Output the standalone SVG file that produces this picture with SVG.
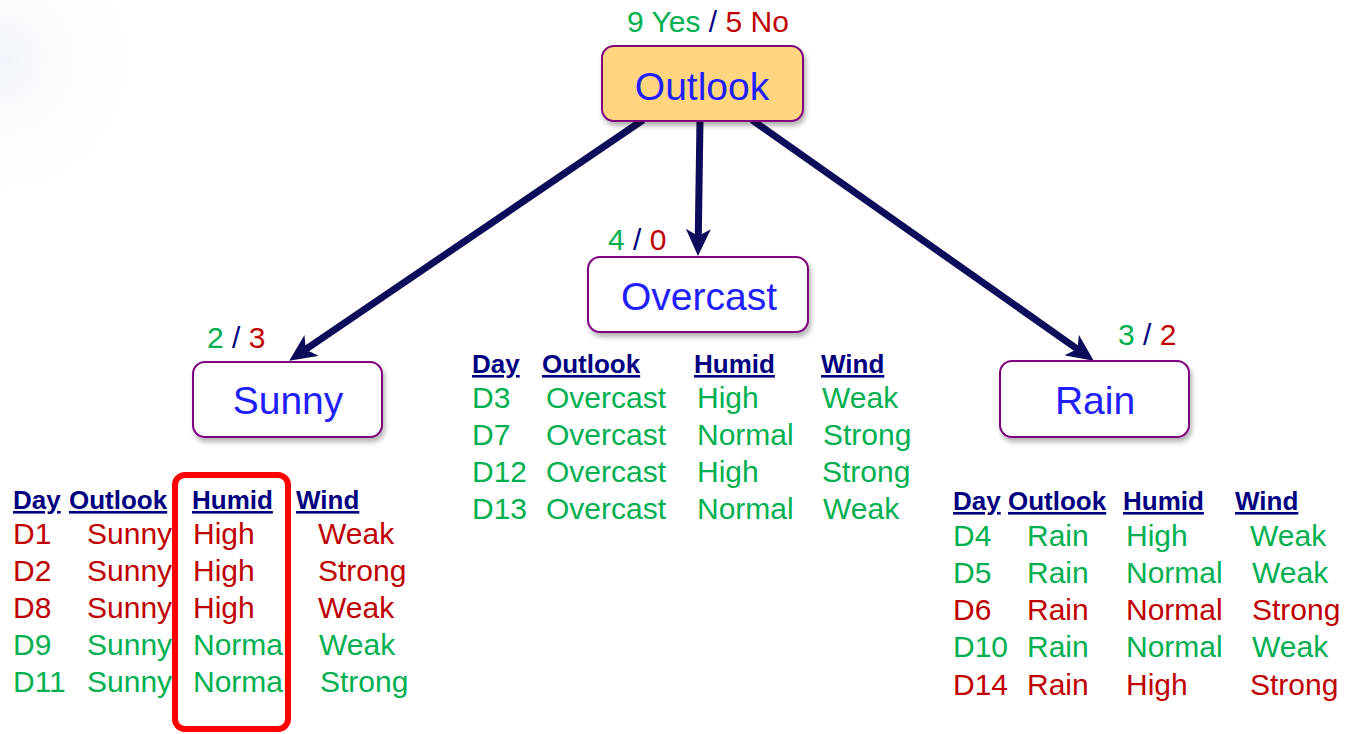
<svg xmlns="http://www.w3.org/2000/svg" width="1347" height="734" viewBox="0 0 1347 734">
  <defs>
    <radialGradient id="glow" cx="0" cy="60" r="150" gradientUnits="userSpaceOnUse">
      <stop offset="0" stop-color="#eaf0f8" stop-opacity="0.7"/>
      <stop offset="1" stop-color="#ffffff" stop-opacity="0"/>
    </radialGradient>
    <filter id="shadow" x="-10%" y="-10%" width="125%" height="140%">
      <feDropShadow dx="2" dy="4" stdDeviation="2.5" flood-color="#000" flood-opacity="0.3"/>
    </filter>
    <marker id="head" viewBox="0 0 27 25" markerWidth="27" markerHeight="25" refX="12" refY="12.5" orient="auto" markerUnits="userSpaceOnUse">
      <path d="M0,0 L27,12.5 L0,25 L7,12.5 Z" fill="#0c0c5a"/>
    </marker>
    <style>
      text { font-family: "Liberation Sans", Arial, sans-serif; }
      .node { stroke: #7f007f; stroke-width: 2; filter: url(#shadow); }
      .label { font-size: 39px; fill: #2020ff; text-anchor: middle; }
      .count { font-size: 30px; }
      .g { fill: #00b050; }
      .r { fill: #c00000; }
      .n { fill: #000080; }
      .hd { font-size: 26px; font-weight: bold; fill: #000080; text-decoration: underline; }
      .row { font-size: 30px; }
      .edge { stroke: #0c0c5a; stroke-width: 7; fill: none; marker-end: url(#head); }
    </style>
  </defs>

  <rect width="1347" height="734" fill="#ffffff"/>
  <rect width="200" height="240" fill="url(#glow)"/>

  <!-- branches from the root -->
  <g id="connectors">
    <line class="edge" x1="643" y1="120" x2="301.6" y2="352.2"/>
    <line class="edge" x1="700" y1="120" x2="698.2" y2="241"/>
    <line class="edge" x1="752" y1="120" x2="1081.5" y2="352"/>
  </g>

  <g id="node-outlook">
    <text class="count" x="708" y="32" text-anchor="middle"><tspan class="g">9 Yes</tspan><tspan class="n"> / </tspan><tspan class="r">5 No</tspan></text>
    <rect class="node" x="602" y="46" width="201" height="75" rx="12" fill="#ffd57f"/>
    <text class="label" x="702" y="100">Outlook</text>
  </g>

  <g id="node-overcast">
    <text class="count" x="608" y="250"><tspan class="g">4</tspan><tspan class="n"> / </tspan><tspan class="r">0</tspan></text>
    <rect class="node" x="588" y="257" width="220" height="75" rx="12" fill="#ffffff"/>
    <text class="label" x="699" y="310">Overcast</text>
  </g>

  <g id="node-sunny">
    <text class="count" x="207" y="348"><tspan class="g">2</tspan><tspan class="n"> / </tspan><tspan class="r">3</tspan></text>
    <rect class="node" x="193" y="362" width="189" height="75" rx="12" fill="#ffffff"/>
    <text class="label" x="288" y="414">Sunny</text>
  </g>

  <g id="node-rain">
    <text class="count" x="1118" y="345"><tspan class="g">3</tspan><tspan class="n"> / </tspan><tspan class="r">2</tspan></text>
    <rect class="node" x="1000" y="361" width="189" height="76" rx="12" fill="#ffffff"/>
    <text class="label" x="1095" y="414">Rain</text>
  </g>

  <!-- Sunny subset -->
  <g id="table-sunny">
    <text class="hd" x="13" y="509">Day</text>
    <text class="hd" x="69" y="509">Outlook</text>
    <text class="hd" x="192" y="509">Humid</text>
    <text class="hd" x="296" y="509">Wind</text>
    <g class="row r">
      <text x="13" y="544">D1</text><text x="87" y="544">Sunny</text><text x="193" y="544">High</text><text x="318" y="544">Weak</text>
      <text x="13" y="581">D2</text><text x="87" y="581">Sunny</text><text x="193" y="581">High</text><text x="318" y="581">Strong</text>
      <text x="13" y="618">D8</text><text x="87" y="618">Sunny</text><text x="193" y="618">High</text><text x="318" y="618">Weak</text>
    </g>
    <g class="row g">
      <text x="13" y="655">D9</text><text x="87" y="655">Sunny</text><text x="193" y="655">Normal</text><text x="319" y="655">Weak</text>
      <text x="13" y="692">D11</text><text x="87" y="692">Sunny</text><text x="193" y="692">Normal</text><text x="320" y="692">Strong</text>
    </g>
    <!-- highlight on the Humid column -->
    <rect x="175" y="475" width="113" height="254" rx="10" fill="none" stroke="#ff0000" stroke-width="6"/>
  </g>

  <!-- Overcast subset -->
  <g id="table-overcast">
    <text class="hd" x="472" y="373">Day</text>
    <text class="hd" x="542" y="373">Outlook</text>
    <text class="hd" x="694" y="373">Humid</text>
    <text class="hd" x="821" y="373">Wind</text>
    <g class="row g">
      <text x="472" y="408">D3</text><text x="546" y="408">Overcast</text><text x="697" y="408">High</text><text x="822" y="408">Weak</text>
      <text x="472" y="445">D7</text><text x="546" y="445">Overcast</text><text x="697" y="445">Normal</text><text x="823" y="445">Strong</text>
      <text x="472" y="482">D12</text><text x="546" y="482">Overcast</text><text x="697" y="482">High</text><text x="822" y="482">Strong</text>
      <text x="472" y="519">D13</text><text x="546" y="519">Overcast</text><text x="697" y="519">Normal</text><text x="823" y="519">Weak</text>
    </g>
  </g>

  <!-- Rain subset -->
  <g id="table-rain">
    <text class="hd" x="953" y="510">Day</text>
    <text class="hd" x="1008" y="510">Outlook</text>
    <text class="hd" x="1123" y="510">Humid</text>
    <text class="hd" x="1235" y="510">Wind</text>
    <g class="row">
      <text class="g" x="953" y="546">D4</text><text class="g" x="1027" y="546">Rain</text><text class="g" x="1126" y="546">High</text><text class="g" x="1250" y="546">Weak</text>
      <text class="g" x="953" y="583">D5</text><text class="g" x="1027" y="583">Rain</text><text class="g" x="1126" y="583">Normal</text><text class="g" x="1252" y="583">Weak</text>
      <text class="r" x="953" y="620">D6</text><text class="r" x="1027" y="620">Rain</text><text class="r" x="1126" y="620">Normal</text><text class="r" x="1252" y="620">Strong</text>
      <text class="g" x="953" y="657">D10</text><text class="g" x="1027" y="657">Rain</text><text class="g" x="1126" y="657">Normal</text><text class="g" x="1252" y="657">Weak</text>
      <text class="r" x="953" y="695">D14</text><text class="r" x="1027" y="695">Rain</text><text class="r" x="1126" y="695">High</text><text class="r" x="1250" y="695">Strong</text>
    </g>
  </g>
</svg>
